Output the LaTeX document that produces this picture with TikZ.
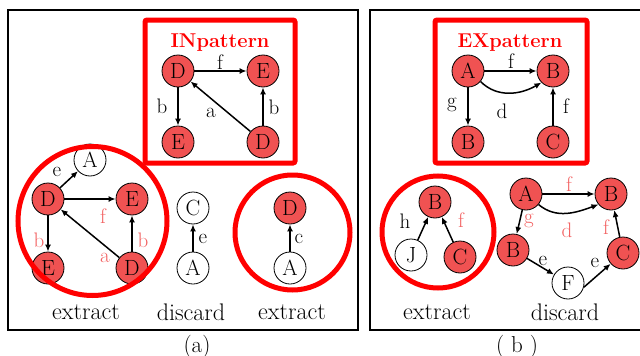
\documentclass[tikz,border=0pt]{standalone}
\usetikzlibrary{arrows.meta}
\definecolor{nodered}{RGB}{240,82,82}
\definecolor{labred}{RGB}{242,96,96}
\definecolor{boxred}{RGB}{255,0,0}
\begin{document}
\begin{tikzpicture}[x=1pt,y=-1pt,
  vtx/.style={circle,draw=black,line width=0.8pt,minimum size=32pt,inner sep=0pt,font=\fontsize{22}{24}\selectfont},
  rv/.style={vtx,fill=nodered},
  wv/.style={vtx,fill=white},
  edge/.style={line width=1.5pt,-{Latex[length=7pt,width=6pt]}},
  lab/.style={font=\fontsize{21}{24}\selectfont,inner sep=0pt},
  rlab/.style={lab,text=labred},
  frame/.style={draw=black,line width=2.6pt},
  patbox/.style={draw=boxred,line width=5pt,rounded corners=2pt},
  selc/.style={draw=boxred,line width=5pt},
  title/.style={font=\fontsize{20}{22}\selectfont\bfseries,text=boxred,inner sep=0pt},
  captext/.style={font=\fontsize{24}{26}\selectfont,inner sep=0pt},
  sub/.style={font=\fontsize{23}{26}\selectfont,inner sep=0pt}]
\useasboundingbox (0,0) rectangle (640,356);
% frames
\draw[frame] (8,10) rectangle (358,330);
\draw[frame] (370,10) rectangle (650,330);
% ---------- (a) INpattern
\draw[patbox] (145,20) rectangle (295,163);
\node[title] (tin) at (220,43) {INpattern};
\node[rv] (p1) at (178,71) {D};
\node[rv] (p2) at (263,71) {E};
\node[rv] (p3) at (178,142) {E};
\node[rv] (p4) at (263,142) {D};
\draw[edge] (p1) -- (p2);
\draw[edge] (p1) -- (p3);
\draw[edge] (p4) -- (p1);
\draw[edge] (p4) -- (p2);
\node[lab] (lf) at (220,62) {f};
\node[lab] (lb1) at (162,106) {b};
\node[lab] (la) at (211,113) {a};
\node[lab] (lb2) at (274,107) {b};
% ---------- (a) extract 1
\node[wv] (a1) at (90,160) {A};
\node[rv] (d1) at (48,199) {D};
\node[rv] (e1) at (132,199) {E};
\node[rv] (e2) at (48,268) {E};
\node[rv] (d2) at (132,268) {D};
\draw[edge] (d1) -- (a1);
\draw[edge] (d1) -- (e1);
\draw[edge] (d1) -- (e2);
\draw[edge] (d2) -- (d1);
\draw[edge] (d2) -- (e1);
\node[lab] (le1) at (57,172) {e};
\node[rlab] (lf1) at (103,216) {f};
\node[rlab] (lb3) at (39,240) {b};
\node[rlab] (la1) at (105,258) {a};
\node[rlab] (lb4) at (143,240) {b};
\draw[selc] (92.5,221) circle (74.5);
% discard
\node[wv] (c2) at (193,208) {C};
\node[wv] (a2) at (193,268) {A};
\draw[edge] (a2) -- (c2);
\node[lab] (le2) at (203,239) {e};
% extract 2
\node[rv] (d3) at (290,208) {D};
\node[wv] (a3) at (290,268) {A};
\draw[edge] (a3) -- (d3);
\node[lab] (lc) at (299,239) {c};
\draw[selc] (292.5,232.5) circle (57.5);
\node[captext] (t1) at (86,312) {extract};
\node[captext] (t2) at (191,312) {discard};
\node[captext] (t3) at (292,312) {extract};
\node[sub] (capa) at (197,347) {(a)};
% ---------- (b) EXpattern
\draw[patbox] (435,20) rectangle (587,163);
\node[title] (tex) at (510,43) {EXpattern};
\node[rv] (q1) at (468,71) {A};
\node[rv] (q2) at (553,71) {B};
\node[rv] (q3) at (468,142) {B};
\node[rv] (q4) at (553,142) {C};
\draw[edge] (q1) -- (q2);
\draw[edge] (q1.-40) to[out=-45,in=-150] (q2.-135);
\draw[edge] (q1) -- (q3);
\draw[edge] (q4) -- (q2);
\node[lab] (lf3) at (511,61) {f};
\node[lab] (lg) at (452,105) {g};
\node[lab] (ld) at (502,111) {d};
\node[lab] (lf4) at (566,106) {f};
% (b) extract
\node[rv] (b5) at (435,202) {B};
\node[wv] (j5) at (411,255) {J};
\node[rv] (c5) at (460,257) {C};
\draw[edge] (j5) -- (b5);
\draw[edge] (c5) -- (b5);
\node[lab] (lh) at (405,221) {h};
\node[rlab] (lf5) at (461,220) {f};
\draw[selc] (438,232) circle (56);
% (b) discard
\node[rv] (a6) at (526,194) {A};
\node[rv] (b6) at (611,194) {B};
\node[rv] (b7) at (513,250) {B};
\node[rv] (c6) at (623,253) {C};
\node[wv] (f6) at (568,283) {F};
\draw[edge] (a6) -- (b6);
\draw[edge] (a6.-40) to[out=-40,in=-160] (b6.-140);
\draw[edge] (a6) -- (b7);
\draw[edge] (c6) -- (b6);
\draw[edge] (b7) -- (f6);
\draw[edge] (f6.-15) -- (c6);
\node[rlab] (lf6) at (569,184) {f};
\node[rlab] (lg6) at (529,221) {g};
\node[rlab] (ld6) at (567,230) {d};
\node[rlab] (lf7) at (606,227) {f};
\node[lab] (le6) at (543,261) {e};
\node[lab] (le7) at (595,263) {e};
\node[captext] (t4) at (437,312) {extract};
\node[captext] (t5) at (565,312) {discard};
\node[sub] (capb) at (517,347) {( b )};
\end{tikzpicture}
\end{document}
